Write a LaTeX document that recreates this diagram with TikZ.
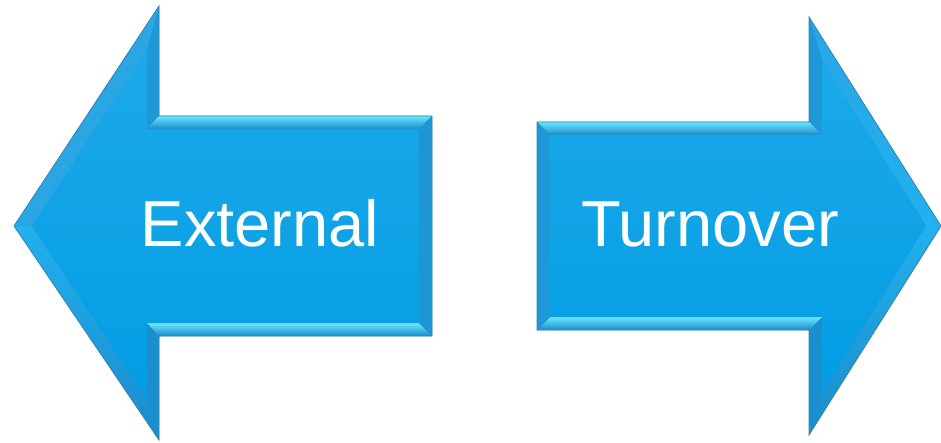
\documentclass[tikz,border=0pt]{standalone}
\usepackage{fontspec}
\setmainfont{Liberation Sans}
\definecolor{edgeblue}{HTML}{3A82B0}
\definecolor{bodytop}{HTML}{1CA9E9}
\definecolor{bodybot}{HTML}{039DE4}
\definecolor{bevlight}{HTML}{6BE6FD}
\definecolor{bevdark}{HTML}{1A8CCB}
\definecolor{bevmid}{HTML}{1E98D6}
\definecolor{bevhead}{HTML}{2AA6E4}
\definecolor{bevheadlow}{HTML}{22B0EE}
\tikzset{
  outline/.style={draw=edgeblue, line width=0.8pt, line join=miter},
  facet/.style={draw=none},
  label/.style={font=\fontsize{65}{70}\selectfont, text=white, anchor=base, inner sep=0pt}
}
\begin{document}
\begin{tikzpicture}[x=1pt,y=-1pt]
\useasboundingbox (0,0) rectangle (941,443);
% ---------- left arrow ----------
\fill[bevmid] (14,226) -- (159,6) -- (159,116) -- (432,116) -- (432,336) -- (159,336) -- (159,440) -- cycle;
% head upper slanted facet
\fill[bevhead] (14,226) -- (159,6) -- (147,50) -- (32,226) -- cycle;
% head lower slanted facet
\shade[facet, top color=bevheadlow, bottom color=bevdark] (14,226) -- (32,226) -- (147,400) -- (159,440) -- cycle;
% head vertical facets
\fill[bevmid] (159,6) -- (159,116) -- (147,129) -- (147,50) -- cycle;
\fill[bevdark!80!bevmid] (159,440) -- (159,336) -- (147,323) -- (147,400) -- cycle;
% shaft top facet
\shade[facet, top color=bevlight, bottom color=bevdark] (159,116) -- (432,116) -- (419,129) -- (147,129) -- cycle;
% shaft bottom facet
\shade[facet, top color=bevlight, bottom color=bevdark] (147,323) -- (419,323) -- (432,336) -- (159,336) -- cycle;
% shaft right facet
\fill[bevmid!85!black!10!bevmid] (432,116) -- (432,336) -- (419,323) -- (419,129) -- cycle;
% body
\shade[top color=bodytop, bottom color=bodybot] (32,226) -- (147,50) -- (147,129) -- (419,129) -- (419,323) -- (147,323) -- (147,400) -- cycle;
\draw[outline] (14,226) -- (159,6) -- (159,116) -- (432,116) -- (432,336) -- (159,336) -- (159,440) -- cycle;
\node[label] (ext) at (260,247) {External};
% ---------- right arrow ----------
\fill[bevmid] (941,226) -- (809,17) -- (809,122) -- (537,122) -- (537,330) -- (809,330) -- (809,435) -- cycle;
% head upper slanted facet
\shade[facet, top color=bevhead, bottom color=bevheadlow] (941,226) -- (809,17) -- (822,60) -- (926,226) -- cycle;
% head lower slanted facet
\shade[facet, top color=bevheadlow, bottom color=bevdark] (941,226) -- (926,226) -- (822,392) -- (809,435) -- cycle;
% head vertical facets
\fill[bevmid] (809,17) -- (809,122) -- (822,135) -- (822,60) -- cycle;
\fill[bevdark!80!bevmid] (809,435) -- (809,330) -- (822,317) -- (822,392) -- cycle;
% shaft top facet
\shade[facet, top color=bevlight, bottom color=bevdark] (537,122) -- (809,122) -- (822,135) -- (550,135) -- cycle;
% shaft bottom facet
\shade[facet, top color=bevlight, bottom color=bevdark] (550,317) -- (822,317) -- (809,330) -- (537,330) -- cycle;
% shaft left facet
\fill[bevmid] (537,122) -- (537,330) -- (550,317) -- (550,135) -- cycle;
% body
\shade[top color=bodytop, bottom color=bodybot] (926,226) -- (822,60) -- (822,135) -- (550,135) -- (550,317) -- (822,317) -- (822,392) -- cycle;
\draw[outline] (941,226) -- (809,17) -- (809,122) -- (537,122) -- (537,330) -- (809,330) -- (809,435) -- cycle;
\node[label] (turn) at (710,247) {Turnover};
\end{tikzpicture}
\end{document}
